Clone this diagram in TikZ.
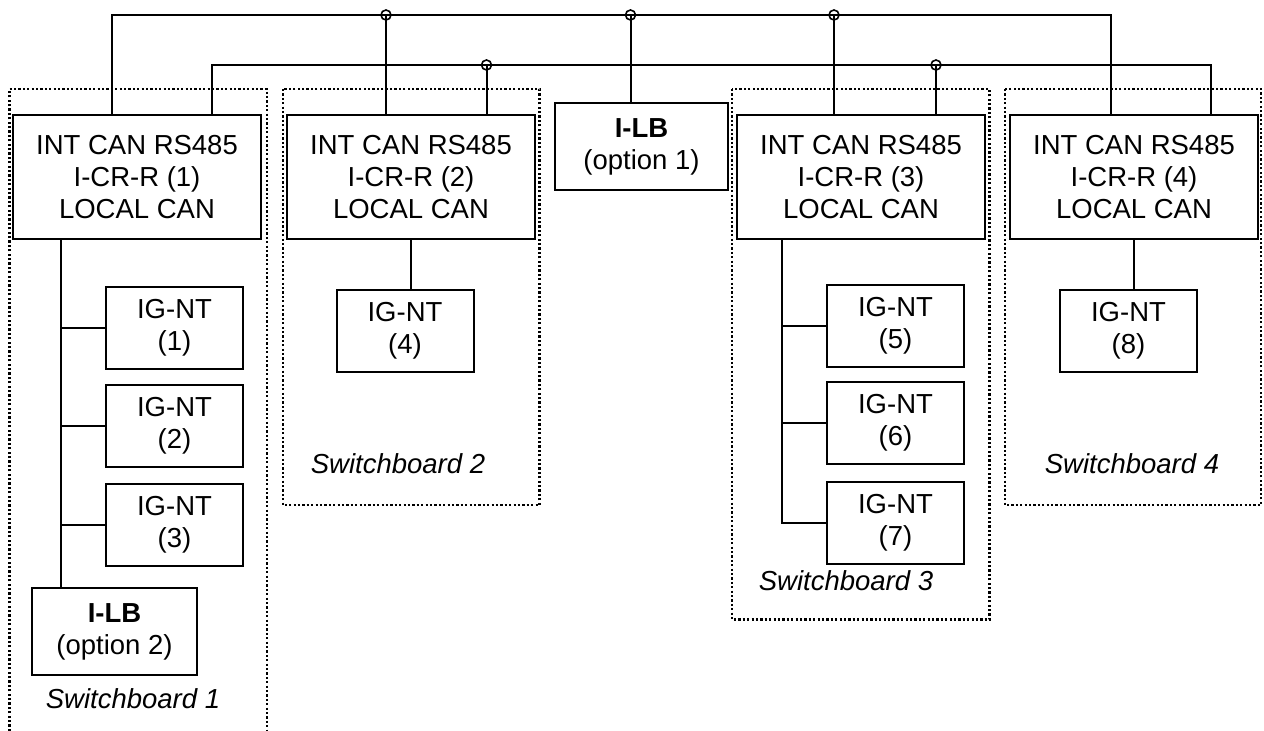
\documentclass[tikz,border=0pt]{standalone}
\usepackage{fontspec}
\setmainfont{Liberation Sans}
\newcommand\diafs{\fontsize{27.5}{32}\selectfont}
\tikzset{
  box/.style={draw, line width=2pt, align=center, inner sep=0pt, font=\diafs},
  crbox/.style={box, minimum width=248pt, minimum height=124pt},
  igbox/.style={box, minimum width=137pt, minimum height=82pt},
  lbbox/.style={box, minimum height=87pt},
  wire/.style={line width=2pt},
  hop/.style={line width=1.6pt},
  sbframe/.style={line width=2.4pt, dash pattern=on 2.2pt off 2.2pt},
  sblabel/.style={anchor=base, font=\diafs\itshape, inner sep=0pt}
}
\begin{document}
\begin{tikzpicture}[x=1pt, y=-1pt]
\useasboundingbox (0,0) rectangle (1264,731);

% switchboard frames
\draw[sbframe] (9.3,731) -- (9.3,89) -- (266.7,89) -- (266.7,731);
\draw[sbframe] (282.7,89) rectangle (539.6,505);
\draw[sbframe] (732,89) rectangle (989.5,619.5);
\draw[sbframe] (1005,89) rectangle (1261,505);

% boxes
\node[crbox] (cr1) at (137,177) {INT CAN RS485\\I-CR-R (1)\\LOCAL CAN};
\node[crbox] (cr2) at (411,177) {INT CAN RS485\\I-CR-R (2)\\LOCAL CAN};
\node[crbox] (cr3) at (861,177) {INT CAN RS485\\I-CR-R (3)\\LOCAL CAN};
\node[crbox] (cr4) at (1134,177) {INT CAN RS485\\I-CR-R (4)\\LOCAL CAN};
\node[lbbox, minimum width=173pt] (ilb1) at (641.5,146.5) {\textbf{I-LB}\\(option 1)};
\node[lbbox, minimum width=165pt] (ilb2) at (114.5,631.5) {\textbf{I-LB}\\(option 2)};
\node[igbox] (ig1) at (174.5,328) {IG-NT\\(1)};
\node[igbox] (ig2) at (174.5,425.5) {IG-NT\\(2)};
\node[igbox] (ig3) at (174.5,525) {IG-NT\\(3)};
\node[igbox] (ig4) at (405,330.5) {IG-NT\\(4)};
\node[igbox] (ig5) at (895.5,325.5) {IG-NT\\(5)};
\node[igbox] (ig6) at (895.5,422.5) {IG-NT\\(6)};
\node[igbox] (ig7) at (895.5,523) {IG-NT\\(7)};
\node[igbox] (ig8) at (1128.5,330.5) {IG-NT\\(8)};

% labels
\node[sblabel] (s1) at (133,708) {Switchboard 1};
\node[sblabel] (s2) at (398,473) {Switchboard 2};
\node[sblabel] (s3) at (846,590) {Switchboard 3};
\node[sblabel] (s4) at (1132,473) {Switchboard 4};

% bus coordinates
\coordinate (t1) at (112,15);
\coordinate (t2) at (386,15);
\coordinate (t3) at (630.5,15);
\coordinate (t4) at (834,15);
\coordinate (t5) at (1111,15);
\coordinate (l1) at (211.5,65);
\coordinate (l2) at (486.5,65);
\coordinate (l3) at (936,65);
\coordinate (l4) at (1210.5,65);
\coordinate (v1) at (61,0);
\coordinate (v3) at (782,0);

% buses
\draw[wire] (t1 |- cr1.north) -- (t1) -- (t5) -- (t5 |- cr4.north);
\draw[wire] (t2) -- (t2 |- cr2.north);
\draw[wire] (t3) -- (t3 |- ilb1.north);
\draw[wire] (t4) -- (t4 |- cr3.north);
\draw[wire] (l1 |- cr1.north) -- (l1) -- (l4) -- (l4 |- cr4.north);
\draw[wire] (l2) -- (l2 |- cr2.north);
\draw[wire] (l3) -- (l3 |- cr3.north);
\foreach \c in {t2,t3,t4,l2,l3} \draw[hop] (\c) circle (5pt);

% local CAN
\draw[wire] (v1 |- cr1.south) -- (v1 |- ilb2.north);
\foreach \i in {ig1,ig2,ig3} \draw[wire] (v1 |- \i.west) -- (\i.west);
\draw[wire] (cr2.south) -- (cr2.south |- ig4.north);
\draw[wire] (v3 |- cr3.south) -- (v3 |- ig7.west) -- (ig7.west);
\foreach \i in {ig5,ig6} \draw[wire] (v3 |- \i.west) -- (\i.west);
\draw[wire] (cr4.south) -- (cr4.south |- ig8.north);
\end{tikzpicture}
\end{document}
